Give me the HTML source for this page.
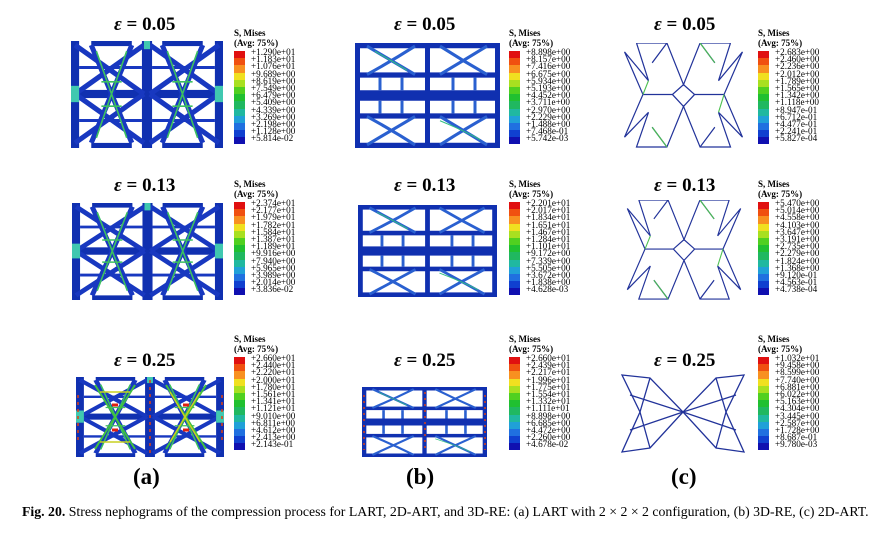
<!DOCTYPE html>
<html><head><meta charset="utf-8"><style>
body{margin:0;width:896px;height:535px;background:#fff;position:relative;overflow:hidden;font-family:"Liberation Serif",serif;}
.t{position:absolute;font-weight:bold;font-size:19px;white-space:nowrap;}
.t i{font-style:italic;}
.lg{position:absolute;font-size:9.2px;line-height:7.2px;white-space:nowrap;}
.lg .h{font-weight:bold;line-height:10px;font-size:9px;}
.bar{position:absolute;left:0;width:11px;}
.bar div{height:7.2px;}
.lab{position:absolute;left:17px;top:1px;}
.pl{position:absolute;font-weight:bold;font-size:23px;}
.cap{position:absolute;left:22px;top:504px;font-size:13.8px;white-space:nowrap;}
</style></head><body>
<svg width="896" height="535" style="position:absolute;left:0;top:0">
<defs>
<symbol id="A" viewBox="0 0 150 105" preserveAspectRatio="none">
<g fill="#1030b0">
<rect x="0" y="0" width="8" height="105"/><rect x="142" y="0" width="8" height="105"/>
<rect x="70" y="0" width="10" height="105"/><rect x="0" y="48" width="150" height="8"/>
<rect x="20" y="0" width="40" height="5"/><rect x="90" y="0" width="40" height="5"/>
<rect x="20" y="100" width="40" height="5"/><rect x="90" y="100" width="40" height="5"/>
</g>
<g stroke="#1838c0" stroke-width="5" fill="none">
<path d="M4 4L72 52M72 4L4 52M4 52L72 100M72 52L4 100M78 4L146 52M146 4L78 52M78 52L146 100M146 52L78 100"/>
<path d="M20 4L40 52L60 4M20 100L40 52L60 100M90 4L110 52L130 4M90 100L110 52L130 100"/>
<path d="M8 26L70 26M8 78L70 78M80 26L142 26M80 78L142 78" stroke-width="3"/>
</g>
<g stroke="#3cc060" stroke-width="1.6" fill="none">
<path d="M25 10L40 52L55 10M25 95L40 52L55 95M95 10L110 52L125 95M95 95L110 52L125 10"/>
<path d="M30 40L50 40M30 64L50 64M100 40L120 40M100 64L120 64"/>
</g>
<g fill="#40c8b0"><rect x="0" y="44" width="8" height="16"/><rect x="142" y="44" width="8" height="16"/><rect x="72" y="0" width="6" height="8"/></g>
</symbol>
<symbol id="B" viewBox="0 0 145 100" preserveAspectRatio="none">
<g fill="#1030b0">
<rect x="0" y="0" width="145" height="5"/><rect x="0" y="95" width="145" height="5"/>
<rect x="0" y="45" width="145" height="10"/><rect x="0" y="28" width="145" height="5"/><rect x="0" y="67" width="145" height="5"/>
<rect x="0" y="0" width="5" height="100"/><rect x="140" y="0" width="5" height="100"/><rect x="70" y="0" width="5" height="100"/>
</g>
<g stroke="#2a60d0" stroke-width="3" fill="none">
<path d="M12 3Q37 17 60 30M12 30Q37 17 60 3M85 3Q108 17 132 30M85 30Q108 17 132 3"/>
<path d="M12 70Q37 83 60 97M12 97Q37 83 60 70M85 70Q108 83 132 97M85 97Q108 83 132 70"/>
<path d="M25 33L25 45M47 33L47 45M98 33L98 45M120 33L120 45M25 55L25 67M47 55L47 67M98 55L98 67M120 55L120 67"/>
</g>
<g stroke="#30c080" stroke-width="1" fill="none"><path d="M20 8Q37 17 52 26M85 74Q108 83 125 92"/></g>
</symbol>
<symbol id="C" viewBox="-70 0 140 106" preserveAspectRatio="none">
<g stroke="#22339a" stroke-width="1.3" fill="none">
<path d="M-51 0L-18 0L0 42L18 0L51 0"/>
<path d="M-51 0L-38 38L-64 9L-44 52L-64 95L-38 70L-51 105L-18 105L0 64L18 105L51 105L38 70L64 95L44 52L64 9L38 38L51 0"/>
<path d="M-44 52L-12 52L0 42M44 52L12 52L0 42M-12 52L0 64M12 52L0 64"/>
<path d="M-18 0L-34 20M18 0L34 20M-18 105L-34 85M18 105L34 85"/>
</g>
<g stroke="#4cc050" stroke-width="1.2" fill="none"><path d="M-34 85L-18 105M34 20L18 0M-38 38L-44 52M38 70L44 52"/></g>
</symbol>
</defs>
<use href="#A" x="71" y="41" width="152" height="107"/>
<use href="#A" x="72" y="203" width="151" height="97"/>
<use href="#A" x="76" y="377" width="148" height="80"/>
<g stroke-width="2" fill="none">
<path d="M95 385L115 417L135 385M95 449L115 417L135 449M166 385L186 417L206 385M166 449L186 417L206 449" stroke="#40c040"/>
<path d="M100 392L130 392M100 442L130 442M170 392L200 442M170 442L200 392" stroke="#c8d020" stroke-width="1.5"/>
<path d="M112 405L118 405M183 405L189 405M112 430L118 430M183 430L189 430" stroke="#e02010" stroke-width="3"/>
<path d="M78 395L78 440M222 395L222 440M150 380L150 455" stroke="#e04010" stroke-width="1.5" stroke-dasharray="3 4"/>
</g>
<use href="#B" x="355" y="43" width="145" height="105"/>
<use href="#B" x="358" y="205" width="139" height="92"/>
<use href="#B" x="362" y="387" width="125" height="70"/>
<g stroke="#e04010" stroke-width="1.5" stroke-dasharray="2 4"><path d="M364 395L364 450M485 395L485 450M425 392L425 452"/></g>
<use href="#C" x="619" y="43" width="129" height="105"/>
<use href="#C" x="622" y="200" width="124" height="100"/>
<g stroke="#22339a" stroke-width="1.3" fill="none">
<path d="M622 375L650 378L683 412L650 448L622 452L640 412Z M744 375L716 378L683 412L716 448L744 452L726 412Z"/>
<path d="M650 378L640 412L650 448M716 378L726 412L716 448M630 395L683 412L630 430M736 395L683 412L736 430"/>
</g>
</svg>

<div class="t" style="left:114px;top:14px"><i>ε</i> = 0.05</div>
<div class="t" style="left:394px;top:14px"><i>ε</i> = 0.05</div>
<div class="t" style="left:654px;top:14px"><i>ε</i> = 0.05</div>
<div class="t" style="left:114px;top:175px"><i>ε</i> = 0.13</div>
<div class="t" style="left:394px;top:175px"><i>ε</i> = 0.13</div>
<div class="t" style="left:654px;top:175px"><i>ε</i> = 0.13</div>
<div class="t" style="left:114px;top:350px"><i>ε</i> = 0.25</div>
<div class="t" style="left:394px;top:350px"><i>ε</i> = 0.25</div>
<div class="t" style="left:654px;top:350px"><i>ε</i> = 0.25</div>

<div class="lg" style="left:234px;top:28px"><div class="h">S, Mises</div><div class="h">(Avg: 75%)</div>
<div style="position:relative"><div class="bar" style="top:3px"><div style="background:#e01010"></div><div style="background:#f05010"></div><div style="background:#f89020"></div><div style="background:#f0e020"></div><div style="background:#a8e020"></div><div style="background:#50d020"></div><div style="background:#20c030"></div><div style="background:#20b860"></div><div style="background:#20b8a0"></div><div style="background:#20a0d8"></div><div style="background:#2070e0"></div><div style="background:#1040d0"></div><div style="background:#1010b0"></div></div>
<div class="lab">+1.290e+01<br>+1.183e+01<br>+1.076e+01<br>+9.689e+00<br>+8.619e+00<br>+7.549e+00<br>+6.479e+00<br>+5.409e+00<br>+4.339e+00<br>+3.269e+00<br>+2.198e+00<br>+1.128e+00<br>+5.814e-02</div></div></div>

<div class="lg" style="left:509px;top:28px"><div class="h">S, Mises</div><div class="h">(Avg: 75%)</div>
<div style="position:relative"><div class="bar" style="top:3px"><div style="background:#e01010"></div><div style="background:#f05010"></div><div style="background:#f89020"></div><div style="background:#f0e020"></div><div style="background:#a8e020"></div><div style="background:#50d020"></div><div style="background:#20c030"></div><div style="background:#20b860"></div><div style="background:#20b8a0"></div><div style="background:#20a0d8"></div><div style="background:#2070e0"></div><div style="background:#1040d0"></div><div style="background:#1010b0"></div></div>
<div class="lab">+8.898e+00<br>+8.157e+00<br>+7.416e+00<br>+6.675e+00<br>+5.934e+00<br>+5.193e+00<br>+4.452e+00<br>+3.711e+00<br>+2.970e+00<br>+2.229e+00<br>+1.488e+00<br>+7.468e-01<br>+5.742e-03</div></div></div>

<div class="lg" style="left:758px;top:28px"><div class="h">S, Mises</div><div class="h">(Avg: 75%)</div>
<div style="position:relative"><div class="bar" style="top:3px"><div style="background:#e01010"></div><div style="background:#f05010"></div><div style="background:#f89020"></div><div style="background:#f0e020"></div><div style="background:#a8e020"></div><div style="background:#50d020"></div><div style="background:#20c030"></div><div style="background:#20b860"></div><div style="background:#20b8a0"></div><div style="background:#20a0d8"></div><div style="background:#2070e0"></div><div style="background:#1040d0"></div><div style="background:#1010b0"></div></div>
<div class="lab">+2.683e+00<br>+2.460e+00<br>+2.236e+00<br>+2.012e+00<br>+1.789e+00<br>+1.565e+00<br>+1.342e+00<br>+1.118e+00<br>+8.947e-01<br>+6.712e-01<br>+4.477e-01<br>+2.241e-01<br>+5.827e-04</div></div></div>

<div class="lg" style="left:234px;top:179px"><div class="h">S, Mises</div><div class="h">(Avg: 75%)</div>
<div style="position:relative"><div class="bar" style="top:3px"><div style="background:#e01010"></div><div style="background:#f05010"></div><div style="background:#f89020"></div><div style="background:#f0e020"></div><div style="background:#a8e020"></div><div style="background:#50d020"></div><div style="background:#20c030"></div><div style="background:#20b860"></div><div style="background:#20b8a0"></div><div style="background:#20a0d8"></div><div style="background:#2070e0"></div><div style="background:#1040d0"></div><div style="background:#1010b0"></div></div>
<div class="lab">+2.374e+01<br>+2.177e+01<br>+1.979e+01<br>+1.782e+01<br>+1.584e+01<br>+1.387e+01<br>+1.189e+01<br>+9.916e+00<br>+7.940e+00<br>+5.965e+00<br>+3.989e+00<br>+2.014e+00<br>+3.836e-02</div></div></div>

<div class="lg" style="left:509px;top:179px"><div class="h">S, Mises</div><div class="h">(Avg: 75%)</div>
<div style="position:relative"><div class="bar" style="top:3px"><div style="background:#e01010"></div><div style="background:#f05010"></div><div style="background:#f89020"></div><div style="background:#f0e020"></div><div style="background:#a8e020"></div><div style="background:#50d020"></div><div style="background:#20c030"></div><div style="background:#20b860"></div><div style="background:#20b8a0"></div><div style="background:#20a0d8"></div><div style="background:#2070e0"></div><div style="background:#1040d0"></div><div style="background:#1010b0"></div></div>
<div class="lab">+2.201e+01<br>+2.017e+01<br>+1.834e+01<br>+1.651e+01<br>+1.467e+01<br>+1.284e+01<br>+1.101e+01<br>+9.172e+00<br>+7.339e+00<br>+5.505e+00<br>+3.672e+00<br>+1.838e+00<br>+4.628e-03</div></div></div>

<div class="lg" style="left:758px;top:179px"><div class="h">S, Mises</div><div class="h">(Avg: 75%)</div>
<div style="position:relative"><div class="bar" style="top:3px"><div style="background:#e01010"></div><div style="background:#f05010"></div><div style="background:#f89020"></div><div style="background:#f0e020"></div><div style="background:#a8e020"></div><div style="background:#50d020"></div><div style="background:#20c030"></div><div style="background:#20b860"></div><div style="background:#20b8a0"></div><div style="background:#20a0d8"></div><div style="background:#2070e0"></div><div style="background:#1040d0"></div><div style="background:#1010b0"></div></div>
<div class="lab">+5.470e+00<br>+5.014e+00<br>+4.558e+00<br>+4.103e+00<br>+3.647e+00<br>+3.191e+00<br>+2.735e+00<br>+2.279e+00<br>+1.824e+00<br>+1.368e+00<br>+9.120e-01<br>+4.563e-01<br>+4.738e-04</div></div></div>

<div class="lg" style="left:234px;top:334px"><div class="h">S, Mises</div><div class="h">(Avg: 75%)</div>
<div style="position:relative"><div class="bar" style="top:3px"><div style="background:#e01010"></div><div style="background:#f05010"></div><div style="background:#f89020"></div><div style="background:#f0e020"></div><div style="background:#a8e020"></div><div style="background:#50d020"></div><div style="background:#20c030"></div><div style="background:#20b860"></div><div style="background:#20b8a0"></div><div style="background:#20a0d8"></div><div style="background:#2070e0"></div><div style="background:#1040d0"></div><div style="background:#1010b0"></div></div>
<div class="lab">+2.660e+01<br>+2.440e+01<br>+2.220e+01<br>+2.000e+01<br>+1.780e+01<br>+1.561e+01<br>+1.341e+01<br>+1.121e+01<br>+9.010e+00<br>+6.811e+00<br>+4.612e+00<br>+2.413e+00<br>+2.143e-01</div></div></div>

<div class="lg" style="left:509px;top:334px"><div class="h">S, Mises</div><div class="h">(Avg: 75%)</div>
<div style="position:relative"><div class="bar" style="top:3px"><div style="background:#e01010"></div><div style="background:#f05010"></div><div style="background:#f89020"></div><div style="background:#f0e020"></div><div style="background:#a8e020"></div><div style="background:#50d020"></div><div style="background:#20c030"></div><div style="background:#20b860"></div><div style="background:#20b8a0"></div><div style="background:#20a0d8"></div><div style="background:#2070e0"></div><div style="background:#1040d0"></div><div style="background:#1010b0"></div></div>
<div class="lab">+2.660e+01<br>+2.439e+01<br>+2.217e+01<br>+1.996e+01<br>+1.775e+01<br>+1.554e+01<br>+1.332e+01<br>+1.111e+01<br>+8.898e+00<br>+6.685e+00<br>+4.472e+00<br>+2.260e+00<br>+4.678e-02</div></div></div>

<div class="lg" style="left:758px;top:334px"><div class="h">S, Mises</div><div class="h">(Avg: 75%)</div>
<div style="position:relative"><div class="bar" style="top:3px"><div style="background:#e01010"></div><div style="background:#f05010"></div><div style="background:#f89020"></div><div style="background:#f0e020"></div><div style="background:#a8e020"></div><div style="background:#50d020"></div><div style="background:#20c030"></div><div style="background:#20b860"></div><div style="background:#20b8a0"></div><div style="background:#20a0d8"></div><div style="background:#2070e0"></div><div style="background:#1040d0"></div><div style="background:#1010b0"></div></div>
<div class="lab">+1.032e+01<br>+9.458e+00<br>+8.599e+00<br>+7.740e+00<br>+6.881e+00<br>+6.022e+00<br>+5.163e+00<br>+4.304e+00<br>+3.445e+00<br>+2.587e+00<br>+1.728e+00<br>+8.687e-01<br>+9.780e-03</div></div></div>

<div class="pl" style="left:133px;top:464px">(a)</div>
<div class="pl" style="left:406px;top:464px">(b)</div>
<div class="pl" style="left:671px;top:464px">(c)</div>
<div class="cap"><b>Fig. 20.</b> Stress nephograms of the compression process for LART, 2D-ART, and 3D-RE: (a) LART with 2 × 2 × 2 configuration, (b) 3D-RE, (c) 2D-ART.</div>
</body></html>
